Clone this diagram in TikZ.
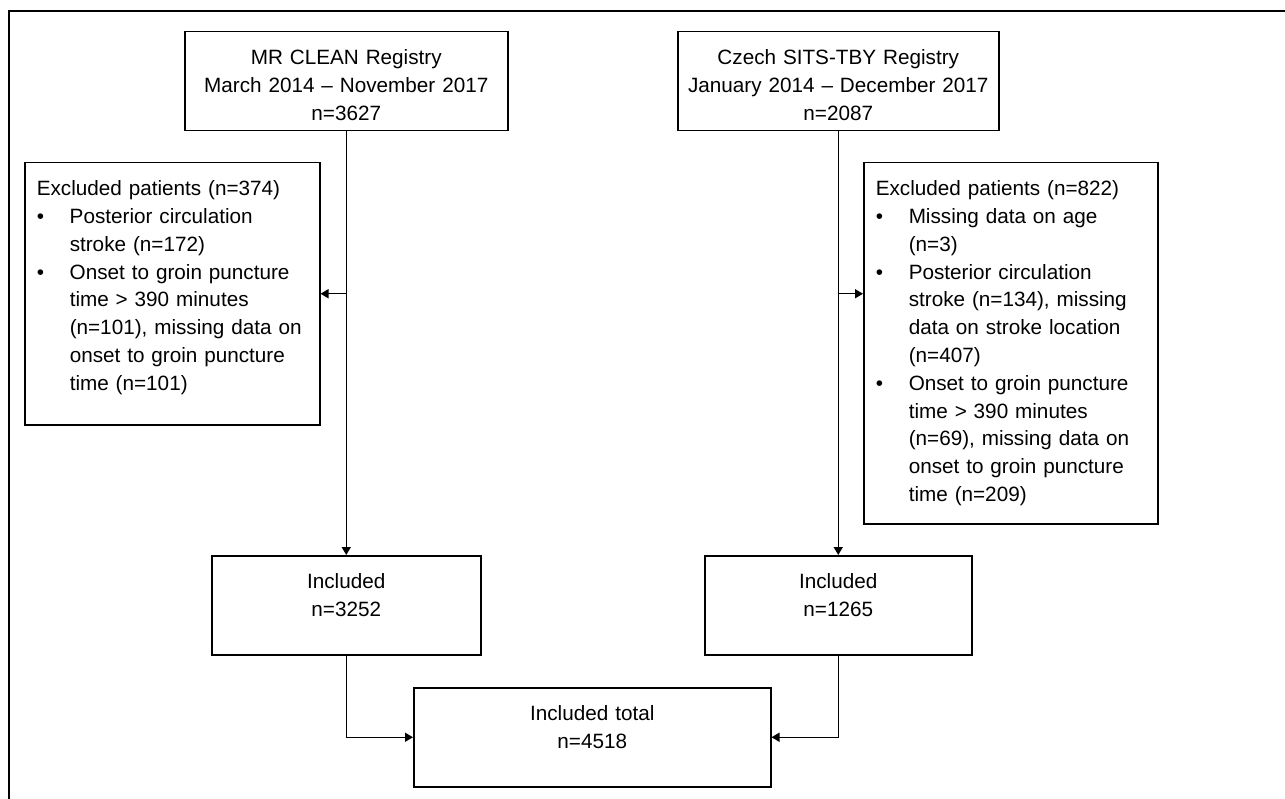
\documentclass[tikz,border=0pt]{standalone}
\usepackage{fontspec}
\setmainfont{Liberation Sans}
\usetikzlibrary{arrows.meta}

\newcommand{\bitem}{\makebox[33pt][l]{\textbullet}}
\newcommand{\bcont}{\hspace*{33pt}}

\tikzset{
  regbox/.style={draw, anchor=north west, inner xsep=6pt, inner ysep=0pt,
    align=center, text height=33pt, text depth=66pt,
    font={\fontsize{20.7}{27.8}\selectfont}},
  exclbox/.style={regbox, inner xsep=12pt, align=left}
}

\begin{document}
\begin{tikzpicture}[x=1pt,y=-1pt,line width=1.5pt,>={Triangle[length=8pt,width=9pt]}]
\useasboundingbox (0,0) rectangle (1285,799);
\draw[line width=2pt] (9,820) -- (9,11) -- (1300,11);

% registries
\node[regbox, text width=311pt] (mr) at (184,31) {MR CLEAN Registry\\March 2014 \textendash{} November 2017\\n=3627};
\node[regbox, text width=309pt] (cz) at (677,31) {Czech SITS-TBY Registry\\January 2014 \textendash{} December 2017\\n=2087};

% exclusions
\node[exclbox, text width=271pt, text depth=229pt] (exl) at (24,162) {Excluded patients (n=374)\\
\bitem Posterior circulation\\
\bcont stroke (n=172)\\
\bitem Onset to groin puncture\\
\bcont time > 390 minutes\\
\bcont (n=101), missing data on\\
\bcont onset to groin puncture\\
\bcont time (n=101)};
\node[exclbox, text width=270pt, text depth=328pt] (exr) at (863,162) {Excluded patients (n=822)\\
\bitem Missing data on age\\
\bcont (n=3)\\
\bitem Posterior circulation\\
\bcont stroke (n=134), missing\\
\bcont data on stroke location\\
\bcont (n=407)\\
\bitem Onset to groin puncture\\
\bcont time > 390 minutes\\
\bcont (n=69), missing data on\\
\bcont onset to groin puncture\\
\bcont time (n=209)};

% included
\node[regbox, text width=257pt] (inc1) at (211,555) {Included\\n=3252};
\node[regbox, text width=255pt] (inc2) at (704,555) {Included\\n=1265};
\node[regbox, text width=345pt] (tot) at (413,687) {Included total\\n=4518};

\coordinate (sl) at (mr.south |- exl.east);
\coordinate (sr) at (cz.south |- sl);

\path[draw,->] (mr.south) -- (inc1.north);
\path[draw,->] (cz.south) -- (inc2.north);
\path[draw,->] (sl) -- (exl.east);
\path[draw,->] (sr) -- (exr.west |- sr);
\path[draw,->] (inc1.south) |- (tot.west);
\path[draw,->] (inc2.south) |- (tot.east);
\end{tikzpicture}
\end{document}
